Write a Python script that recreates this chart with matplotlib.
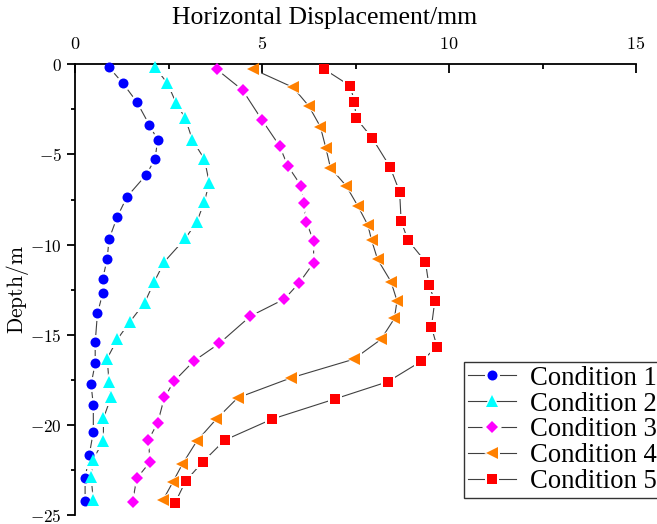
import matplotlib
matplotlib.use('Agg')
import matplotlib.pyplot as plt
from matplotlib.lines import Line2D
from matplotlib.legend_handler import HandlerTuple
from matplotlib.ticker import MultipleLocator, FuncFormatter

plt.rcParams['mathtext.fontset'] = 'cm'

# ---------------- data ----------------
labels = ['Condition 1', 'Condition 2', 'Condition 3', 'Condition 4', 'Condition 5']

depth1 = [0.17, 1.05, 2.08, 3.37, 4.2, 5.26, 6.14, 7.35, 8.46, 9.7, 10.8, 11.91,
          12.71, 13.82, 15.43, 16.59, 17.76, 18.91, 20.39, 21.68, 22.97, 24.23]
disp1 = [0.91, 1.28, 1.65, 1.99, 2.21, 2.14, 1.90, 1.39, 1.13, 0.91, 0.86, 0.74,
         0.74, 0.60, 0.54, 0.54, 0.43, 0.49, 0.49, 0.38, 0.27, 0.27]

depth2 = [0.17, 1.05, 2.13, 3.0, 4.2, 5.26, 6.57, 7.62, 8.73, 9.66, 10.95, 12.06,
          13.23, 14.28, 15.26, 16.32, 17.61, 18.48, 19.64, 20.89, 21.96, 22.89, 24.18]
disp2 = [2.14, 2.47, 2.70, 2.95, 3.14, 3.46, 3.59, 3.46, 3.26, 2.95, 2.39, 2.12,
         1.86, 1.47, 1.13, 0.86, 0.91, 0.96, 0.76, 0.76, 0.47, 0.43, 0.49]

depth3 = [0.28, 1.43, 3.09, 4.53, 5.64, 6.75, 7.68, 8.73, 9.79, 11.01, 12.11,
          13.02, 13.97, 15.48, 16.47, 17.58, 18.48, 19.89, 20.85, 22.05, 22.97, 24.27]
disp3 = [3.79, 4.48, 5.0, 5.47, 5.69, 6.05, 6.11, 6.18, 6.38, 6.38, 6.0,
         5.60, 4.69, 3.86, 3.17, 2.65, 2.39, 2.21, 1.96, 2.01, 1.65, 1.54]

depth4 = [0.28, 1.28, 2.31, 3.46, 4.66, 5.74, 6.74, 7.85, 8.92, 9.75, 10.82, 12.06,
          13.12, 14.1, 15.26, 16.36, 17.39, 18.5, 19.7, 20.89, 22.18, 23.16, 24.18]
disp4 = [4.77, 5.83, 6.25, 6.56, 6.71, 6.83, 7.25, 7.56, 7.83, 7.93, 8.09, 8.45,
         8.61, 8.54, 8.18, 7.45, 5.78, 4.35, 3.77, 3.26, 2.87, 2.62, 2.35]

depth5 = [0.28, 1.2, 2.08, 3.0, 4.07, 5.68, 7.07, 8.7, 9.75, 10.95, 12.22,
          13.14, 14.56, 15.67, 16.47, 17.61, 18.57, 19.68, 20.85, 22.05, 23.11, 24.31]
disp5 = [6.67, 7.36, 7.47, 7.52, 7.94, 8.42, 8.68, 8.72, 8.9, 9.37, 9.46,
         9.62, 9.53, 9.68, 9.26, 8.36, 6.94, 5.27, 4.0, 3.42, 2.96, 2.68]

depths = [depth1, depth2, depth3, depth4, depth5]
disps = [disp1, disp2, disp3, disp4, disp5]

colors = ['#0000FF', '#00FFFF', '#FF00FF', '#FF8000', '#FF0000']
markers = ['o', '^', 'D', '<', 's']
msizes = [7.2, 8.8, 6.6, 8.4, 6.8]
line_color = '#404040'

x_ticks = [0, 5, 10, 15]
y_ticks = [0, -5, -10, -15, -20, -25]

# ---------------- figure ----------------
W, H = 657, 524
fig = plt.figure(figsize=(W / 100, H / 100), dpi=100)
ax_l, ax_r, ax_t, ax_b = 75, 636, 64.3, 515
ax = fig.add_axes([ax_l / W, 1 - ax_b / H, (ax_r - ax_l) / W, (ax_b - ax_t) / H])

halo = 3.6
for d, x in zip(depths, disps):
    yv = [-v for v in d]
    ax.plot(x, yv, color=line_color, lw=0.8, zorder=2)
for d, x, m, ms in zip(depths, disps, markers, msizes):
    yv = [-v for v in d]
    ax.plot(x, yv, ls='none', marker=m, ms=ms + halo, color='white', mew=0, zorder=2.2)
for d, x, m, ms, c in zip(depths, disps, markers, msizes, colors):
    yv = [-v for v in d]
    ax.plot(x, yv, ls='none', marker=m, ms=ms, color=c, mew=0, zorder=3, clip_on=False)

ax.set_xlim(0, 15)
ax.set_ylim(-25, 0)

for s in ['right', 'bottom']:
    ax.spines[s].set_visible(False)
for s in ['left', 'top']:
    ax.spines[s].set_linewidth(1.3)
    ax.spines[s].set_color('black')

ax.xaxis.tick_top()
ax.set_xticks(x_ticks)
ax.set_yticks(y_ticks)
ax.xaxis.set_minor_locator(MultipleLocator(2.5))
ax.yaxis.set_minor_locator(MultipleLocator(2.5))


def fmt(v, p):
    iv = int(round(v))
    return r'$%d$' % iv if iv != 0 else r'$0$'


ax.xaxis.set_major_formatter(FuncFormatter(fmt))
ax.yaxis.set_major_formatter(FuncFormatter(fmt))

ax.tick_params(axis='x', which='both', direction='in', top=True, bottom=False,
               labeltop=True, labelbottom=False, width=1.3, color='black')
ax.tick_params(axis='x', which='major', length=6.5, pad=8, labelsize=13)
ax.tick_params(axis='x', which='minor', length=3.5)
ax.tick_params(axis='y', which='both', direction='out', left=True, right=False,
               width=1.3, color='black')
ax.tick_params(axis='y', which='major', length=6, pad=3.5, labelsize=12.3)
ax.tick_params(axis='y', which='minor', length=3)

ax.set_ylabel(r'$\mathrm{Depth/m}$', fontsize=15.5)
ax.yaxis.set_label_coords(-0.079, 0.5)

fig.text(325 / W, 1 - 24 / H, 'Horizontal Displacement/mm', ha='center', va='baseline',
         family='Liberation Serif', fontsize=18.5)

# ---------------- legend ----------------
handles = []
for m, ms, c in zip(markers, msizes, colors):
    h1 = Line2D([], [], color=line_color, lw=0.8, marker=m, ms=ms + halo,
                markerfacecolor='white', mew=0)
    h2 = Line2D([], [], ls='none', marker=m, ms=ms, color=c, mew=0)
    handles.append((h1, h2))

leg = ax.legend(handles, labels, handler_map={tuple: HandlerTuple(ndivide=1)},
                loc='upper left', bbox_to_anchor=(464 / W, 1 - 362 / H),
                bbox_transform=fig.transFigure, borderaxespad=0,
                prop={'family': 'Liberation Serif', 'size': 19.2},
                numpoints=1, handlelength=1.8, handletextpad=0.55,
                borderpad=0.14, labelspacing=0.03, frameon=True, fancybox=False,
                framealpha=1, edgecolor='#333333')
leg.get_frame().set_linewidth(1.0)
leg.set_zorder(10)

fig.savefig('out.png', dpi=100)
